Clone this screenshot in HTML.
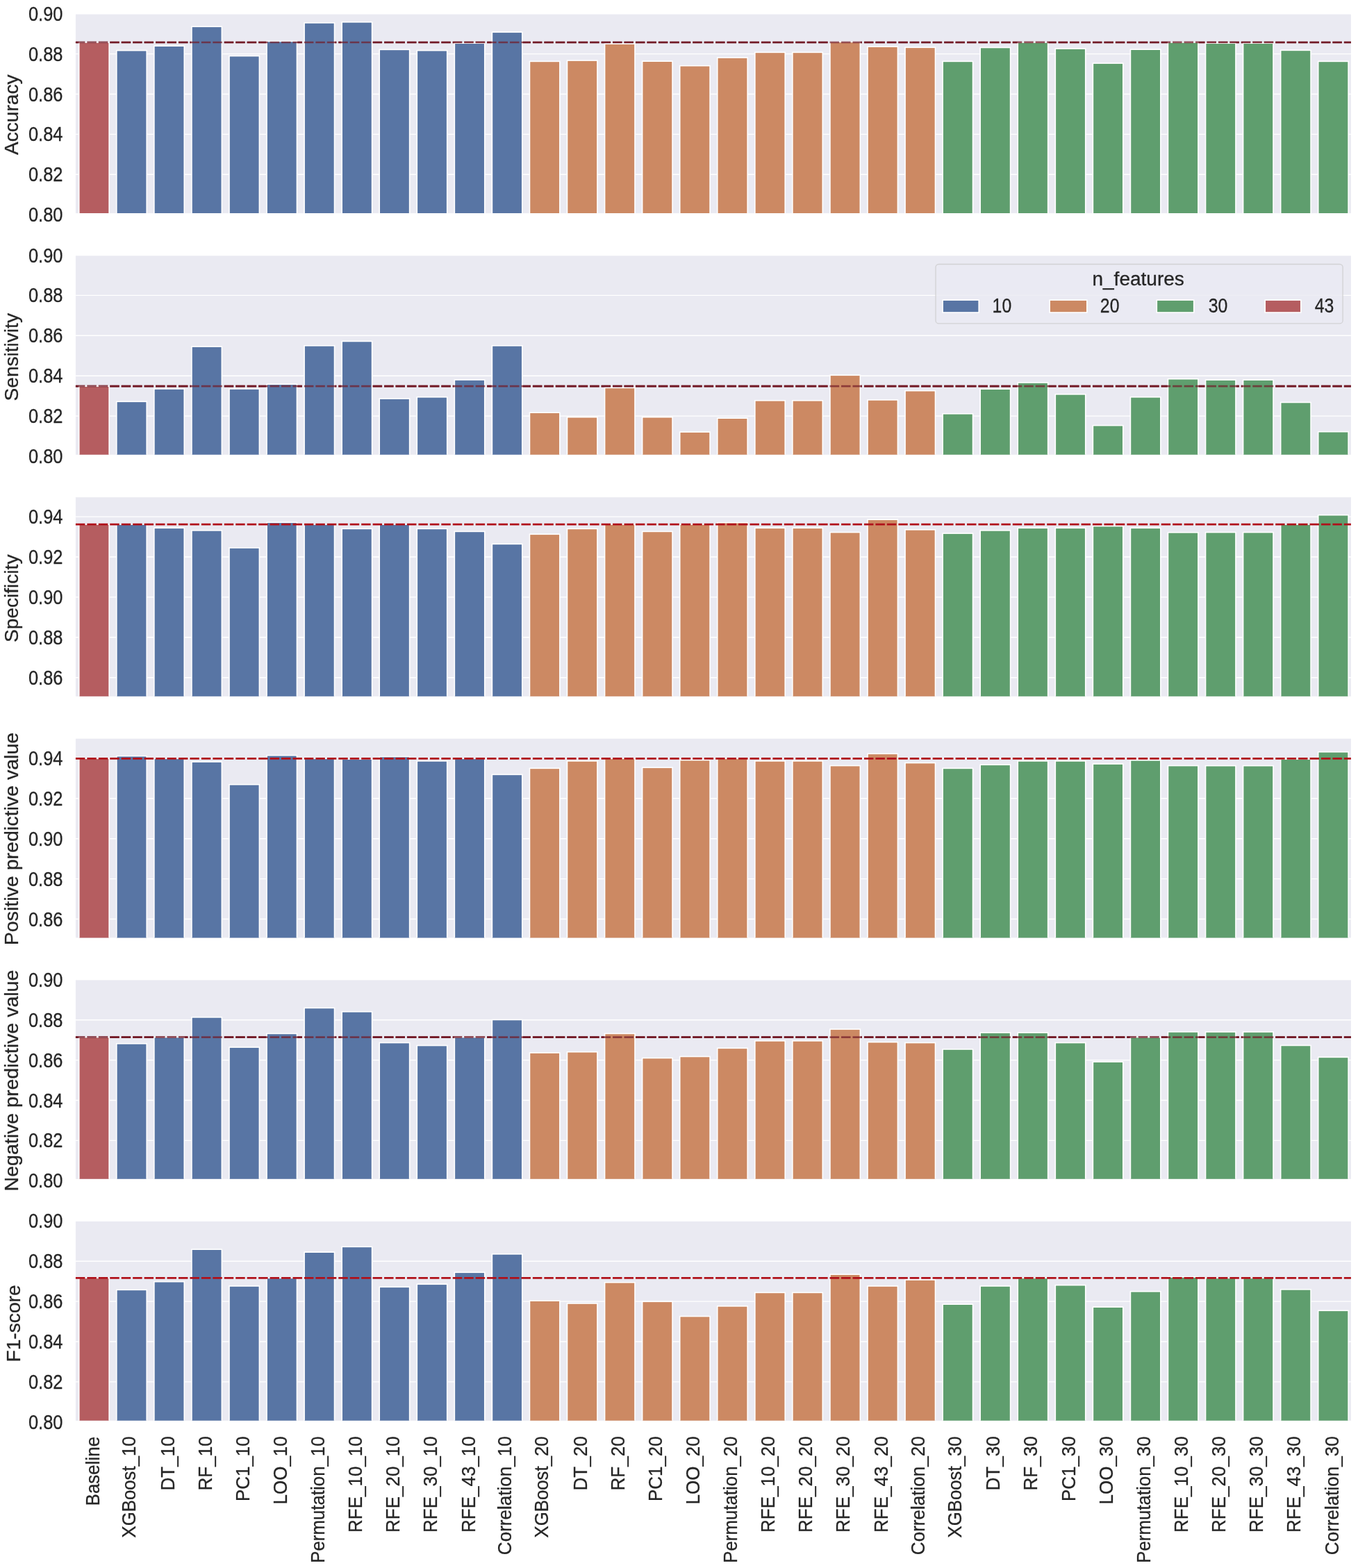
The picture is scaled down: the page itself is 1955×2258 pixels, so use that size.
<!DOCTYPE html>
<html><head><meta charset="utf-8"><title>Feature selection metrics</title>
<style>html,body{margin:0;padding:0;background:#fff;}svg{display:block;}</style>
</head><body>
<svg width="1955" height="2258" viewBox="0 0 1955 2258" font-family="'Liberation Sans', Arial, Helvetica, sans-serif">
<style>text{stroke:#262626;stroke-width:0.3px;}</style>
<rect x="0" y="0" width="1955" height="2258" fill="#ffffff"/>
<defs>
<clipPath id="c0"><rect x="108.9" y="20.6" width="1836" height="286.5"/></clipPath>
<clipPath id="c1"><rect x="108.9" y="368.3" width="1836" height="286.5"/></clipPath>
<clipPath id="c2"><rect x="108.9" y="716.1" width="1836" height="286.7"/></clipPath>
<clipPath id="c3"><rect x="108.9" y="1063.7" width="1836" height="286.7"/></clipPath>
<clipPath id="c4"><rect x="108.9" y="1411.4" width="1836" height="286.4"/></clipPath>
<clipPath id="c5"><rect x="108.9" y="1758.9" width="1836" height="286.9"/></clipPath>
</defs>
<g>
<rect x="108.9" y="20.6" width="1836" height="286.5" fill="#eaeaf2"/>
<line x1="108.9" x2="1944.9" y1="77.6" y2="77.6" stroke="#ffffff" stroke-width="1.4"/>
<line x1="108.9" x2="1944.9" y1="135.5" y2="135.5" stroke="#ffffff" stroke-width="1.4"/>
<line x1="108.9" x2="1944.9" y1="193.4" y2="193.4" stroke="#ffffff" stroke-width="1.4"/>
<line x1="108.9" x2="1944.9" y1="251.3" y2="251.3" stroke="#ffffff" stroke-width="1.4"/>
<line x1="108.9" x2="1944.9" y1="61" y2="61" stroke="#721a26" stroke-width="2.7" stroke-dasharray="13.5 2.95"/>
<g clip-path="url(#c0)" stroke="#ffffff" stroke-width="1.6">
<rect x="113.75" y="61" width="43.4" height="256.1" fill="#b55d60"/>
<rect x="167.81" y="72.7" width="43.4" height="244.4" fill="#5875a4"/>
<rect x="221.87" y="66.2" width="43.4" height="250.9" fill="#5875a4"/>
<rect x="275.93" y="38.3" width="43.4" height="278.8" fill="#5875a4"/>
<rect x="329.99" y="80.6" width="43.4" height="236.5" fill="#5875a4"/>
<rect x="384.05" y="59.5" width="43.4" height="257.6" fill="#5875a4"/>
<rect x="438.11" y="32.9" width="43.4" height="284.2" fill="#5875a4"/>
<rect x="492.17" y="31.8" width="43.4" height="285.3" fill="#5875a4"/>
<rect x="546.23" y="71.4" width="43.4" height="245.7" fill="#5875a4"/>
<rect x="600.29" y="72.7" width="43.4" height="244.4" fill="#5875a4"/>
<rect x="654.35" y="62.2" width="43.4" height="254.9" fill="#5875a4"/>
<rect x="708.41" y="46.3" width="43.4" height="270.8" fill="#5875a4"/>
<rect x="762.47" y="88.4" width="43.4" height="228.7" fill="#cc8963"/>
<rect x="816.53" y="87.1" width="43.4" height="230" fill="#cc8963"/>
<rect x="870.59" y="63.1" width="43.4" height="254" fill="#cc8963"/>
<rect x="924.65" y="88.2" width="43.4" height="228.9" fill="#cc8963"/>
<rect x="978.71" y="94.7" width="43.4" height="222.4" fill="#cc8963"/>
<rect x="1032.77" y="83" width="43.4" height="234.1" fill="#cc8963"/>
<rect x="1086.83" y="75.4" width="43.4" height="241.7" fill="#cc8963"/>
<rect x="1140.89" y="75.4" width="43.4" height="241.7" fill="#cc8963"/>
<rect x="1194.95" y="60.4" width="43.4" height="256.7" fill="#cc8963"/>
<rect x="1249.01" y="67.2" width="43.4" height="249.9" fill="#cc8963"/>
<rect x="1303.07" y="68.3" width="43.4" height="248.8" fill="#cc8963"/>
<rect x="1357.13" y="88.4" width="43.4" height="228.7" fill="#5f9e6e"/>
<rect x="1411.19" y="68.5" width="43.4" height="248.6" fill="#5f9e6e"/>
<rect x="1465.25" y="61" width="43.4" height="256.1" fill="#5f9e6e"/>
<rect x="1519.31" y="70.1" width="43.4" height="247" fill="#5f9e6e"/>
<rect x="1573.37" y="91.1" width="43.4" height="226" fill="#5f9e6e"/>
<rect x="1627.43" y="71.2" width="43.4" height="245.9" fill="#5f9e6e"/>
<rect x="1681.49" y="61" width="43.4" height="256.1" fill="#5f9e6e"/>
<rect x="1735.55" y="62.2" width="43.4" height="254.9" fill="#5f9e6e"/>
<rect x="1789.61" y="62.2" width="43.4" height="254.9" fill="#5f9e6e"/>
<rect x="1843.67" y="72.4" width="43.4" height="244.7" fill="#5f9e6e"/>
<rect x="1897.73" y="88.4" width="43.4" height="228.7" fill="#5f9e6e"/>
</g>
<line x1="108.9" x2="1944.9" y1="61" y2="61" stroke="#721a26" stroke-width="2.7" stroke-dasharray="13.5 2.95" stroke-opacity="0.7"/>
</g>
<text transform="translate(90.5,29.7) scale(0.866,1)" font-size="29.4" text-anchor="end" fill="#262626">0.90</text>
<text transform="translate(90.5,87.6) scale(0.866,1)" font-size="29.4" text-anchor="end" fill="#262626">0.88</text>
<text transform="translate(90.5,145.5) scale(0.866,1)" font-size="29.4" text-anchor="end" fill="#262626">0.86</text>
<text transform="translate(90.5,203.4) scale(0.866,1)" font-size="29.4" text-anchor="end" fill="#262626">0.84</text>
<text transform="translate(90.5,261.3) scale(0.866,1)" font-size="29.4" text-anchor="end" fill="#262626">0.82</text>
<text transform="translate(90.5,319.2) scale(0.866,1)" font-size="29.4" text-anchor="end" fill="#262626">0.80</text>
<text transform="translate(26.1,222.956) rotate(-90) scale(0.993,1)" font-size="28.3" fill="#262626">Accuracy</text>
<g>
<rect x="108.9" y="368.3" width="1836" height="286.5" fill="#eaeaf2"/>
<line x1="108.9" x2="1944.9" y1="425.4" y2="425.4" stroke="#ffffff" stroke-width="1.4"/>
<line x1="108.9" x2="1944.9" y1="483.3" y2="483.3" stroke="#ffffff" stroke-width="1.4"/>
<line x1="108.9" x2="1944.9" y1="541.2" y2="541.2" stroke="#ffffff" stroke-width="1.4"/>
<line x1="108.9" x2="1944.9" y1="599.1" y2="599.1" stroke="#ffffff" stroke-width="1.4"/>
<line x1="108.9" x2="1944.9" y1="556.2" y2="556.2" stroke="#721a26" stroke-width="2.7" stroke-dasharray="13.5 2.95"/>
<g clip-path="url(#c1)" stroke="#ffffff" stroke-width="1.6">
<rect x="113.75" y="556.2" width="43.4" height="108.6" fill="#b55d60"/>
<rect x="167.81" y="578.3" width="43.4" height="86.5" fill="#5875a4"/>
<rect x="221.87" y="560" width="43.4" height="104.8" fill="#5875a4"/>
<rect x="275.93" y="499.1" width="43.4" height="165.7" fill="#5875a4"/>
<rect x="329.99" y="560" width="43.4" height="104.8" fill="#5875a4"/>
<rect x="384.05" y="553.3" width="43.4" height="111.5" fill="#5875a4"/>
<rect x="438.11" y="497.8" width="43.4" height="167" fill="#5875a4"/>
<rect x="492.17" y="491.5" width="43.4" height="173.3" fill="#5875a4"/>
<rect x="546.23" y="574.1" width="43.4" height="90.7" fill="#5875a4"/>
<rect x="600.29" y="571.8" width="43.4" height="93" fill="#5875a4"/>
<rect x="654.35" y="547" width="43.4" height="117.8" fill="#5875a4"/>
<rect x="708.41" y="497.8" width="43.4" height="167" fill="#5875a4"/>
<rect x="762.47" y="594.2" width="43.4" height="70.6" fill="#cc8963"/>
<rect x="816.53" y="600.7" width="43.4" height="64.1" fill="#cc8963"/>
<rect x="870.59" y="558.4" width="43.4" height="106.4" fill="#cc8963"/>
<rect x="924.65" y="600.7" width="43.4" height="64.1" fill="#cc8963"/>
<rect x="978.71" y="622.1" width="43.4" height="42.7" fill="#cc8963"/>
<rect x="1032.77" y="602.2" width="43.4" height="62.6" fill="#cc8963"/>
<rect x="1086.83" y="576.8" width="43.4" height="88" fill="#cc8963"/>
<rect x="1140.89" y="576.8" width="43.4" height="88" fill="#cc8963"/>
<rect x="1194.95" y="540.3" width="43.4" height="124.5" fill="#cc8963"/>
<rect x="1249.01" y="575.9" width="43.4" height="88.9" fill="#cc8963"/>
<rect x="1303.07" y="562.7" width="43.4" height="102.1" fill="#cc8963"/>
<rect x="1357.13" y="595.8" width="43.4" height="69" fill="#5f9e6e"/>
<rect x="1411.19" y="560.2" width="43.4" height="104.6" fill="#5f9e6e"/>
<rect x="1465.25" y="551" width="43.4" height="113.8" fill="#5f9e6e"/>
<rect x="1519.31" y="567.8" width="43.4" height="97" fill="#5f9e6e"/>
<rect x="1573.37" y="612.7" width="43.4" height="52.1" fill="#5f9e6e"/>
<rect x="1627.43" y="571.8" width="43.4" height="93" fill="#5f9e6e"/>
<rect x="1681.49" y="545.7" width="43.4" height="119.1" fill="#5f9e6e"/>
<rect x="1735.55" y="547.1" width="43.4" height="117.7" fill="#5f9e6e"/>
<rect x="1789.61" y="547.1" width="43.4" height="117.7" fill="#5f9e6e"/>
<rect x="1843.67" y="579.5" width="43.4" height="85.3" fill="#5f9e6e"/>
<rect x="1897.73" y="621.7" width="43.4" height="43.1" fill="#5f9e6e"/>
</g>
<line x1="108.9" x2="1944.9" y1="556.2" y2="556.2" stroke="#721a26" stroke-width="2.7" stroke-dasharray="13.5 2.95" stroke-opacity="0.7"/>
</g>
<text transform="translate(90.5,377.5) scale(0.866,1)" font-size="29.4" text-anchor="end" fill="#262626">0.90</text>
<text transform="translate(90.5,435.4) scale(0.866,1)" font-size="29.4" text-anchor="end" fill="#262626">0.88</text>
<text transform="translate(90.5,493.3) scale(0.866,1)" font-size="29.4" text-anchor="end" fill="#262626">0.86</text>
<text transform="translate(90.5,551.2) scale(0.866,1)" font-size="29.4" text-anchor="end" fill="#262626">0.84</text>
<text transform="translate(90.5,609.1) scale(0.866,1)" font-size="29.4" text-anchor="end" fill="#262626">0.82</text>
<text transform="translate(90.5,667) scale(0.866,1)" font-size="29.4" text-anchor="end" fill="#262626">0.80</text>
<text transform="translate(26.1,577.391) rotate(-90) scale(0.992,1)" font-size="28.3" fill="#262626">Sensitivity</text>
<g>
<rect x="108.9" y="716.1" width="1836" height="286.7" fill="#eaeaf2"/>
<line x1="108.9" x2="1944.9" y1="744.1" y2="744.1" stroke="#ffffff" stroke-width="1.4"/>
<line x1="108.9" x2="1944.9" y1="802" y2="802" stroke="#ffffff" stroke-width="1.4"/>
<line x1="108.9" x2="1944.9" y1="859.9" y2="859.9" stroke="#ffffff" stroke-width="1.4"/>
<line x1="108.9" x2="1944.9" y1="917.8" y2="917.8" stroke="#ffffff" stroke-width="1.4"/>
<line x1="108.9" x2="1944.9" y1="975.7" y2="975.7" stroke="#ffffff" stroke-width="1.4"/>
<g clip-path="url(#c2)" stroke="#ffffff" stroke-width="1.6">
<rect x="113.75" y="755.1" width="43.4" height="257.7" fill="#b55d60"/>
<rect x="167.81" y="755.1" width="43.4" height="257.7" fill="#5875a4"/>
<rect x="221.87" y="760.3" width="43.4" height="252.5" fill="#5875a4"/>
<rect x="275.93" y="763.9" width="43.4" height="248.9" fill="#5875a4"/>
<rect x="329.99" y="788.9" width="43.4" height="223.9" fill="#5875a4"/>
<rect x="384.05" y="752.3" width="43.4" height="260.5" fill="#5875a4"/>
<rect x="438.11" y="755.1" width="43.4" height="257.7" fill="#5875a4"/>
<rect x="492.17" y="761.4" width="43.4" height="251.4" fill="#5875a4"/>
<rect x="546.23" y="755.1" width="43.4" height="257.7" fill="#5875a4"/>
<rect x="600.29" y="761.4" width="43.4" height="251.4" fill="#5875a4"/>
<rect x="654.35" y="765.4" width="43.4" height="247.4" fill="#5875a4"/>
<rect x="708.41" y="783.4" width="43.4" height="229.4" fill="#5875a4"/>
<rect x="762.47" y="769.3" width="43.4" height="243.5" fill="#cc8963"/>
<rect x="816.53" y="761.4" width="43.4" height="251.4" fill="#cc8963"/>
<rect x="870.59" y="755.1" width="43.4" height="257.7" fill="#cc8963"/>
<rect x="924.65" y="765.4" width="43.4" height="247.4" fill="#cc8963"/>
<rect x="978.71" y="755.1" width="43.4" height="257.7" fill="#cc8963"/>
<rect x="1032.77" y="752.7" width="43.4" height="260.1" fill="#cc8963"/>
<rect x="1086.83" y="760.3" width="43.4" height="252.5" fill="#cc8963"/>
<rect x="1140.89" y="760.3" width="43.4" height="252.5" fill="#cc8963"/>
<rect x="1194.95" y="766.6" width="43.4" height="246.2" fill="#cc8963"/>
<rect x="1249.01" y="748.2" width="43.4" height="264.6" fill="#cc8963"/>
<rect x="1303.07" y="762.8" width="43.4" height="250" fill="#cc8963"/>
<rect x="1357.13" y="768.1" width="43.4" height="244.7" fill="#5f9e6e"/>
<rect x="1411.19" y="763.9" width="43.4" height="248.9" fill="#5f9e6e"/>
<rect x="1465.25" y="760.3" width="43.4" height="252.5" fill="#5f9e6e"/>
<rect x="1519.31" y="760.3" width="43.4" height="252.5" fill="#5f9e6e"/>
<rect x="1573.37" y="757.6" width="43.4" height="255.2" fill="#5f9e6e"/>
<rect x="1627.43" y="760.3" width="43.4" height="252.5" fill="#5f9e6e"/>
<rect x="1681.49" y="766.8" width="43.4" height="246" fill="#5f9e6e"/>
<rect x="1735.55" y="766.6" width="43.4" height="246.2" fill="#5f9e6e"/>
<rect x="1789.61" y="766.6" width="43.4" height="246.2" fill="#5f9e6e"/>
<rect x="1843.67" y="755.1" width="43.4" height="257.7" fill="#5f9e6e"/>
<rect x="1897.73" y="741.7" width="43.4" height="271.1" fill="#5f9e6e"/>
</g>
<line x1="108.9" x2="1944.9" y1="755.1" y2="755.1" stroke="#b0111a" stroke-width="2.7" stroke-dasharray="13.5 2.95"/>
</g>
<text transform="translate(90.5,754.1) scale(0.866,1)" font-size="29.4" text-anchor="end" fill="#262626">0.94</text>
<text transform="translate(90.5,812) scale(0.866,1)" font-size="29.4" text-anchor="end" fill="#262626">0.92</text>
<text transform="translate(90.5,869.9) scale(0.866,1)" font-size="29.4" text-anchor="end" fill="#262626">0.90</text>
<text transform="translate(90.5,927.8) scale(0.866,1)" font-size="29.4" text-anchor="end" fill="#262626">0.88</text>
<text transform="translate(90.5,985.7) scale(0.866,1)" font-size="29.4" text-anchor="end" fill="#262626">0.86</text>
<text transform="translate(26.1,924.891) rotate(-90) scale(0.992,1)" font-size="28.3" fill="#262626">Specificity</text>
<g>
<rect x="108.9" y="1063.7" width="1836" height="286.7" fill="#eaeaf2"/>
<line x1="108.9" x2="1944.9" y1="1091.9" y2="1091.9" stroke="#ffffff" stroke-width="1.4"/>
<line x1="108.9" x2="1944.9" y1="1149.8" y2="1149.8" stroke="#ffffff" stroke-width="1.4"/>
<line x1="108.9" x2="1944.9" y1="1207.7" y2="1207.7" stroke="#ffffff" stroke-width="1.4"/>
<line x1="108.9" x2="1944.9" y1="1265.6" y2="1265.6" stroke="#ffffff" stroke-width="1.4"/>
<line x1="108.9" x2="1944.9" y1="1323.5" y2="1323.5" stroke="#ffffff" stroke-width="1.4"/>
<g clip-path="url(#c3)" stroke="#ffffff" stroke-width="1.6">
<rect x="113.75" y="1092.3" width="43.4" height="268.1" fill="#b55d60"/>
<rect x="167.81" y="1088.7" width="43.4" height="271.7" fill="#5875a4"/>
<rect x="221.87" y="1092.3" width="43.4" height="268.1" fill="#5875a4"/>
<rect x="275.93" y="1097.1" width="43.4" height="263.3" fill="#5875a4"/>
<rect x="329.99" y="1129.8" width="43.4" height="230.6" fill="#5875a4"/>
<rect x="384.05" y="1087.8" width="43.4" height="272.6" fill="#5875a4"/>
<rect x="438.11" y="1092.3" width="43.4" height="268.1" fill="#5875a4"/>
<rect x="492.17" y="1093.2" width="43.4" height="267.2" fill="#5875a4"/>
<rect x="546.23" y="1089.6" width="43.4" height="270.8" fill="#5875a4"/>
<rect x="600.29" y="1095.9" width="43.4" height="264.5" fill="#5875a4"/>
<rect x="654.35" y="1092.3" width="43.4" height="268.1" fill="#5875a4"/>
<rect x="708.41" y="1115.4" width="43.4" height="245" fill="#5875a4"/>
<rect x="762.47" y="1106.4" width="43.4" height="254" fill="#cc8963"/>
<rect x="816.53" y="1095.9" width="43.4" height="264.5" fill="#cc8963"/>
<rect x="870.59" y="1092.3" width="43.4" height="268.1" fill="#cc8963"/>
<rect x="924.65" y="1105.3" width="43.4" height="255.1" fill="#cc8963"/>
<rect x="978.71" y="1094.6" width="43.4" height="265.8" fill="#cc8963"/>
<rect x="1032.77" y="1092.3" width="43.4" height="268.1" fill="#cc8963"/>
<rect x="1086.83" y="1095.9" width="43.4" height="264.5" fill="#cc8963"/>
<rect x="1140.89" y="1095.9" width="43.4" height="264.5" fill="#cc8963"/>
<rect x="1194.95" y="1102.6" width="43.4" height="257.8" fill="#cc8963"/>
<rect x="1249.01" y="1085.4" width="43.4" height="275" fill="#cc8963"/>
<rect x="1303.07" y="1098.6" width="43.4" height="261.8" fill="#cc8963"/>
<rect x="1357.13" y="1106.4" width="43.4" height="254" fill="#5f9e6e"/>
<rect x="1411.19" y="1101.3" width="43.4" height="259.1" fill="#5f9e6e"/>
<rect x="1465.25" y="1095.9" width="43.4" height="264.5" fill="#5f9e6e"/>
<rect x="1519.31" y="1095.9" width="43.4" height="264.5" fill="#5f9e6e"/>
<rect x="1573.37" y="1100.1" width="43.4" height="260.3" fill="#5f9e6e"/>
<rect x="1627.43" y="1094.8" width="43.4" height="265.6" fill="#5f9e6e"/>
<rect x="1681.49" y="1102.6" width="43.4" height="257.8" fill="#5f9e6e"/>
<rect x="1735.55" y="1102.7" width="43.4" height="257.7" fill="#5f9e6e"/>
<rect x="1789.61" y="1102.7" width="43.4" height="257.7" fill="#5f9e6e"/>
<rect x="1843.67" y="1093.2" width="43.4" height="267.2" fill="#5f9e6e"/>
<rect x="1897.73" y="1082.8" width="43.4" height="277.6" fill="#5f9e6e"/>
</g>
<line x1="108.9" x2="1944.9" y1="1092.3" y2="1092.3" stroke="#b0111a" stroke-width="2.7" stroke-dasharray="13.5 2.95"/>
</g>
<text transform="translate(90.5,1101.9) scale(0.866,1)" font-size="29.4" text-anchor="end" fill="#262626">0.94</text>
<text transform="translate(90.5,1159.8) scale(0.866,1)" font-size="29.4" text-anchor="end" fill="#262626">0.92</text>
<text transform="translate(90.5,1217.7) scale(0.866,1)" font-size="29.4" text-anchor="end" fill="#262626">0.90</text>
<text transform="translate(90.5,1275.6) scale(0.866,1)" font-size="29.4" text-anchor="end" fill="#262626">0.88</text>
<text transform="translate(90.5,1333.5) scale(0.866,1)" font-size="29.4" text-anchor="end" fill="#262626">0.86</text>
<text transform="translate(26.1,1361.343) rotate(-90) scale(1.01,1)" font-size="28.3" fill="#262626">Positive predictive value</text>
<g>
<rect x="108.9" y="1411.4" width="1836" height="286.4" fill="#eaeaf2"/>
<line x1="108.9" x2="1944.9" y1="1468.7" y2="1468.7" stroke="#ffffff" stroke-width="1.4"/>
<line x1="108.9" x2="1944.9" y1="1526.6" y2="1526.6" stroke="#ffffff" stroke-width="1.4"/>
<line x1="108.9" x2="1944.9" y1="1584.5" y2="1584.5" stroke="#ffffff" stroke-width="1.4"/>
<line x1="108.9" x2="1944.9" y1="1642.4" y2="1642.4" stroke="#ffffff" stroke-width="1.4"/>
<line x1="108.9" x2="1944.9" y1="1493.6" y2="1493.6" stroke="#721a26" stroke-width="2.7" stroke-dasharray="13.5 2.95"/>
<g clip-path="url(#c4)" stroke="#ffffff" stroke-width="1.6">
<rect x="113.75" y="1493.6" width="43.4" height="214.2" fill="#b55d60"/>
<rect x="167.81" y="1502.9" width="43.4" height="204.9" fill="#5875a4"/>
<rect x="221.87" y="1493.6" width="43.4" height="214.2" fill="#5875a4"/>
<rect x="275.93" y="1464.9" width="43.4" height="242.9" fill="#5875a4"/>
<rect x="329.99" y="1508.1" width="43.4" height="199.7" fill="#5875a4"/>
<rect x="384.05" y="1488.4" width="43.4" height="219.4" fill="#5875a4"/>
<rect x="438.11" y="1451.5" width="43.4" height="256.3" fill="#5875a4"/>
<rect x="492.17" y="1456.9" width="43.4" height="250.9" fill="#5875a4"/>
<rect x="546.23" y="1501.6" width="43.4" height="206.2" fill="#5875a4"/>
<rect x="600.29" y="1505.6" width="43.4" height="202.2" fill="#5875a4"/>
<rect x="654.35" y="1493.6" width="43.4" height="214.2" fill="#5875a4"/>
<rect x="708.41" y="1468.5" width="43.4" height="239.3" fill="#5875a4"/>
<rect x="762.47" y="1516.1" width="43.4" height="191.7" fill="#cc8963"/>
<rect x="816.53" y="1514.8" width="43.4" height="193" fill="#cc8963"/>
<rect x="870.59" y="1488.4" width="43.4" height="219.4" fill="#cc8963"/>
<rect x="924.65" y="1523.6" width="43.4" height="184.2" fill="#cc8963"/>
<rect x="978.71" y="1521.5" width="43.4" height="186.3" fill="#cc8963"/>
<rect x="1032.77" y="1509.4" width="43.4" height="198.4" fill="#cc8963"/>
<rect x="1086.83" y="1498.9" width="43.4" height="208.9" fill="#cc8963"/>
<rect x="1140.89" y="1498.9" width="43.4" height="208.9" fill="#cc8963"/>
<rect x="1194.95" y="1482.1" width="43.4" height="225.7" fill="#cc8963"/>
<rect x="1249.01" y="1500.7" width="43.4" height="207.1" fill="#cc8963"/>
<rect x="1303.07" y="1501.6" width="43.4" height="206.2" fill="#cc8963"/>
<rect x="1357.13" y="1511" width="43.4" height="196.8" fill="#5f9e6e"/>
<rect x="1411.19" y="1487.1" width="43.4" height="220.7" fill="#5f9e6e"/>
<rect x="1465.25" y="1487.1" width="43.4" height="220.7" fill="#5f9e6e"/>
<rect x="1519.31" y="1501.6" width="43.4" height="206.2" fill="#5f9e6e"/>
<rect x="1573.37" y="1529.1" width="43.4" height="178.7" fill="#5f9e6e"/>
<rect x="1627.43" y="1493.6" width="43.4" height="214.2" fill="#5f9e6e"/>
<rect x="1681.49" y="1485.9" width="43.4" height="221.9" fill="#5f9e6e"/>
<rect x="1735.55" y="1486" width="43.4" height="221.8" fill="#5f9e6e"/>
<rect x="1789.61" y="1486" width="43.4" height="221.8" fill="#5f9e6e"/>
<rect x="1843.67" y="1505.5" width="43.4" height="202.3" fill="#5f9e6e"/>
<rect x="1897.73" y="1522.4" width="43.4" height="185.4" fill="#5f9e6e"/>
</g>
<line x1="108.9" x2="1944.9" y1="1493.6" y2="1493.6" stroke="#721a26" stroke-width="2.7" stroke-dasharray="13.5 2.95" stroke-opacity="0.7"/>
</g>
<text transform="translate(90.5,1420.8) scale(0.866,1)" font-size="29.4" text-anchor="end" fill="#262626">0.90</text>
<text transform="translate(90.5,1478.7) scale(0.866,1)" font-size="29.4" text-anchor="end" fill="#262626">0.88</text>
<text transform="translate(90.5,1536.6) scale(0.866,1)" font-size="29.4" text-anchor="end" fill="#262626">0.86</text>
<text transform="translate(90.5,1594.5) scale(0.866,1)" font-size="29.4" text-anchor="end" fill="#262626">0.84</text>
<text transform="translate(90.5,1652.4) scale(0.866,1)" font-size="29.4" text-anchor="end" fill="#262626">0.82</text>
<text transform="translate(90.5,1710.3) scale(0.866,1)" font-size="29.4" text-anchor="end" fill="#262626">0.80</text>
<text transform="translate(26.1,1715.441) rotate(-90) scale(1.009,1)" font-size="28.3" fill="#262626">Negative predictive value</text>
<g>
<rect x="108.9" y="1758.9" width="1836" height="286.9" fill="#eaeaf2"/>
<line x1="108.9" x2="1944.9" y1="1816.2" y2="1816.2" stroke="#ffffff" stroke-width="1.4"/>
<line x1="108.9" x2="1944.9" y1="1874.1" y2="1874.1" stroke="#ffffff" stroke-width="1.4"/>
<line x1="108.9" x2="1944.9" y1="1932" y2="1932" stroke="#ffffff" stroke-width="1.4"/>
<line x1="108.9" x2="1944.9" y1="1989.9" y2="1989.9" stroke="#ffffff" stroke-width="1.4"/>
<g clip-path="url(#c5)" stroke="#ffffff" stroke-width="1.6">
<rect x="113.75" y="1840.4" width="43.4" height="215.4" fill="#b55d60"/>
<rect x="167.81" y="1857.4" width="43.4" height="198.4" fill="#5875a4"/>
<rect x="221.87" y="1845.7" width="43.4" height="210.1" fill="#5875a4"/>
<rect x="275.93" y="1799.2" width="43.4" height="256.6" fill="#5875a4"/>
<rect x="329.99" y="1852" width="43.4" height="203.8" fill="#5875a4"/>
<rect x="384.05" y="1840.4" width="43.4" height="215.4" fill="#5875a4"/>
<rect x="438.11" y="1803.2" width="43.4" height="252.6" fill="#5875a4"/>
<rect x="492.17" y="1795.4" width="43.4" height="260.4" fill="#5875a4"/>
<rect x="546.23" y="1853.3" width="43.4" height="202.5" fill="#5875a4"/>
<rect x="600.29" y="1849.3" width="43.4" height="206.5" fill="#5875a4"/>
<rect x="654.35" y="1832.3" width="43.4" height="223.5" fill="#5875a4"/>
<rect x="708.41" y="1805.9" width="43.4" height="249.9" fill="#5875a4"/>
<rect x="762.47" y="1873.2" width="43.4" height="182.6" fill="#cc8963"/>
<rect x="816.53" y="1877" width="43.4" height="178.8" fill="#cc8963"/>
<rect x="870.59" y="1846.8" width="43.4" height="209" fill="#cc8963"/>
<rect x="924.65" y="1874.3" width="43.4" height="181.5" fill="#cc8963"/>
<rect x="978.71" y="1895.6" width="43.4" height="160.2" fill="#cc8963"/>
<rect x="1032.77" y="1880.9" width="43.4" height="174.9" fill="#cc8963"/>
<rect x="1086.83" y="1861.4" width="43.4" height="194.4" fill="#cc8963"/>
<rect x="1140.89" y="1861.4" width="43.4" height="194.4" fill="#cc8963"/>
<rect x="1194.95" y="1835.2" width="43.4" height="220.6" fill="#cc8963"/>
<rect x="1249.01" y="1852" width="43.4" height="203.8" fill="#cc8963"/>
<rect x="1303.07" y="1843" width="43.4" height="212.8" fill="#cc8963"/>
<rect x="1357.13" y="1878.2" width="43.4" height="177.6" fill="#5f9e6e"/>
<rect x="1411.19" y="1852" width="43.4" height="203.8" fill="#5f9e6e"/>
<rect x="1465.25" y="1840.4" width="43.4" height="215.4" fill="#5f9e6e"/>
<rect x="1519.31" y="1850.7" width="43.4" height="205.1" fill="#5f9e6e"/>
<rect x="1573.37" y="1882.2" width="43.4" height="173.6" fill="#5f9e6e"/>
<rect x="1627.43" y="1859.8" width="43.4" height="196" fill="#5f9e6e"/>
<rect x="1681.49" y="1839" width="43.4" height="216.8" fill="#5f9e6e"/>
<rect x="1735.55" y="1840.4" width="43.4" height="215.4" fill="#5f9e6e"/>
<rect x="1789.61" y="1840.4" width="43.4" height="215.4" fill="#5f9e6e"/>
<rect x="1843.67" y="1856.9" width="43.4" height="198.9" fill="#5f9e6e"/>
<rect x="1897.73" y="1887.3" width="43.4" height="168.5" fill="#5f9e6e"/>
</g>
<line x1="108.9" x2="1944.9" y1="1840.4" y2="1840.4" stroke="#b0111a" stroke-width="2.7" stroke-dasharray="13.5 2.95"/>
</g>
<text transform="translate(90.5,1768.3) scale(0.866,1)" font-size="29.4" text-anchor="end" fill="#262626">0.90</text>
<text transform="translate(90.5,1826.2) scale(0.866,1)" font-size="29.4" text-anchor="end" fill="#262626">0.88</text>
<text transform="translate(90.5,1884.1) scale(0.866,1)" font-size="29.4" text-anchor="end" fill="#262626">0.86</text>
<text transform="translate(90.5,1942) scale(0.866,1)" font-size="29.4" text-anchor="end" fill="#262626">0.84</text>
<text transform="translate(90.5,1999.9) scale(0.866,1)" font-size="29.4" text-anchor="end" fill="#262626">0.82</text>
<text transform="translate(90.5,2057.8) scale(0.866,1)" font-size="29.4" text-anchor="end" fill="#262626">0.80</text>
<text transform="translate(29,1961.51) rotate(-90) scale(0.996,1)" font-size="28.3" fill="#262626">F1-score</text>
<text transform="translate(143.1,2168.431) rotate(-90) scale(0.938,1)" font-size="27.7" fill="#262626">Baseline</text>
<text transform="translate(194.5,2214.493) rotate(-90) scale(0.931,1)" font-size="27.7" fill="#262626">XGBoost_10</text>
<text transform="translate(251.4,2146.541) rotate(-90) scale(0.943,1)" font-size="27.7" fill="#262626">DT_10</text>
<text transform="translate(305.2,2146.541) rotate(-90) scale(0.943,1)" font-size="27.7" fill="#262626">RF_10</text>
<text transform="translate(359.2,2162.029) rotate(-90) scale(0.937,1)" font-size="27.7" fill="#262626">PC1_10</text>
<text transform="translate(413.3,2166.431) rotate(-90) scale(0.938,1)" font-size="27.7" fill="#262626">LOO_10</text>
<text transform="translate(467.3,2250.72) rotate(-90) scale(0.933,1)" font-size="27.7" fill="#262626">Permutation_10</text>
<text transform="translate(521.2,2207.033) rotate(-90) scale(0.939,1)" font-size="27.7" fill="#262626">RFE_10_10</text>
<text transform="translate(575.4,2207.033) rotate(-90) scale(0.939,1)" font-size="27.7" fill="#262626">RFE_20_10</text>
<text transform="translate(629.2,2207.033) rotate(-90) scale(0.939,1)" font-size="27.7" fill="#262626">RFE_30_10</text>
<text transform="translate(683.5,2207.033) rotate(-90) scale(0.939,1)" font-size="27.7" fill="#262626">RFE_43_10</text>
<text transform="translate(736,2239.129) rotate(-90) scale(0.941,1)" font-size="27.7" fill="#262626">Correlation_10</text>
<text transform="translate(788.5,2214.493) rotate(-90) scale(0.931,1)" font-size="27.7" fill="#262626">XGBoost_20</text>
<text transform="translate(845.2,2146.541) rotate(-90) scale(0.943,1)" font-size="27.7" fill="#262626">DT_20</text>
<text transform="translate(899.4,2146.541) rotate(-90) scale(0.943,1)" font-size="27.7" fill="#262626">RF_20</text>
<text transform="translate(953.3,2162.029) rotate(-90) scale(0.937,1)" font-size="27.7" fill="#262626">PC1_20</text>
<text transform="translate(1007.3,2166.431) rotate(-90) scale(0.938,1)" font-size="27.7" fill="#262626">LOO_20</text>
<text transform="translate(1061.3,2250.72) rotate(-90) scale(0.933,1)" font-size="27.7" fill="#262626">Permutation_20</text>
<text transform="translate(1115.4,2207.033) rotate(-90) scale(0.939,1)" font-size="27.7" fill="#262626">RFE_10_20</text>
<text transform="translate(1169.4,2207.033) rotate(-90) scale(0.939,1)" font-size="27.7" fill="#262626">RFE_20_20</text>
<text transform="translate(1223.4,2207.033) rotate(-90) scale(0.939,1)" font-size="27.7" fill="#262626">RFE_30_20</text>
<text transform="translate(1277.5,2207.033) rotate(-90) scale(0.939,1)" font-size="27.7" fill="#262626">RFE_43_20</text>
<text transform="translate(1331.2,2239.129) rotate(-90) scale(0.941,1)" font-size="27.7" fill="#262626">Correlation_20</text>
<text transform="translate(1384.1,2214.493) rotate(-90) scale(0.931,1)" font-size="27.7" fill="#262626">XGBoost_30</text>
<text transform="translate(1439.3,2146.541) rotate(-90) scale(0.943,1)" font-size="27.7" fill="#262626">DT_30</text>
<text transform="translate(1493.4,2146.541) rotate(-90) scale(0.943,1)" font-size="27.7" fill="#262626">RF_30</text>
<text transform="translate(1547.5,2162.029) rotate(-90) scale(0.937,1)" font-size="27.7" fill="#262626">PC1_30</text>
<text transform="translate(1601.5,2166.431) rotate(-90) scale(0.938,1)" font-size="27.7" fill="#262626">LOO_30</text>
<text transform="translate(1655.5,2250.72) rotate(-90) scale(0.933,1)" font-size="27.7" fill="#262626">Permutation_30</text>
<text transform="translate(1709.9,2207.033) rotate(-90) scale(0.939,1)" font-size="27.7" fill="#262626">RFE_10_30</text>
<text transform="translate(1764,2207.033) rotate(-90) scale(0.939,1)" font-size="27.7" fill="#262626">RFE_20_30</text>
<text transform="translate(1818.1,2207.033) rotate(-90) scale(0.939,1)" font-size="27.7" fill="#262626">RFE_30_30</text>
<text transform="translate(1872.2,2207.033) rotate(-90) scale(0.939,1)" font-size="27.7" fill="#262626">RFE_43_30</text>
<text transform="translate(1926.8,2239.129) rotate(-90) scale(0.941,1)" font-size="27.7" fill="#262626">Correlation_30</text>
<g>
<rect x="1347.0" y="380.5" width="586.1" height="85.4" rx="4.5" ry="4.5" fill="#eaeaf2" fill-opacity="0.8" stroke="#cccccc" stroke-opacity="0.8" stroke-width="1.3"/>
<rect x="1357.1" y="432.1" width="52.1" height="17.9" fill="#5875a4" stroke="#ffffff" stroke-width="1.6"/>
<text transform="translate(1428.615,450.0) scale(0.851,1)" font-size="29.15" fill="#262626">10</text>
<rect x="1511.1" y="432.1" width="53.7" height="17.9" fill="#cc8963" stroke="#ffffff" stroke-width="1.6"/>
<text transform="translate(1583.86,450.0) scale(0.851,1)" font-size="29.15" fill="#262626">20</text>
<rect x="1665.3" y="432.1" width="53.4" height="17.9" fill="#5f9e6e" stroke="#ffffff" stroke-width="1.6"/>
<text transform="translate(1739.757,450.0) scale(0.851,1)" font-size="29.15" fill="#262626">30</text>
<rect x="1821.2" y="432.1" width="51.6" height="17.9" fill="#b55d60" stroke="#ffffff" stroke-width="1.6"/>
<text transform="translate(1892.629,450.0) scale(0.851,1)" font-size="29.15" fill="#262626">43</text>
<text transform="translate(1572.45,411.4) scale(1.023,1)" font-size="27.4" fill="#262626">n_features</text>
</g>
</svg>
</body></html>
